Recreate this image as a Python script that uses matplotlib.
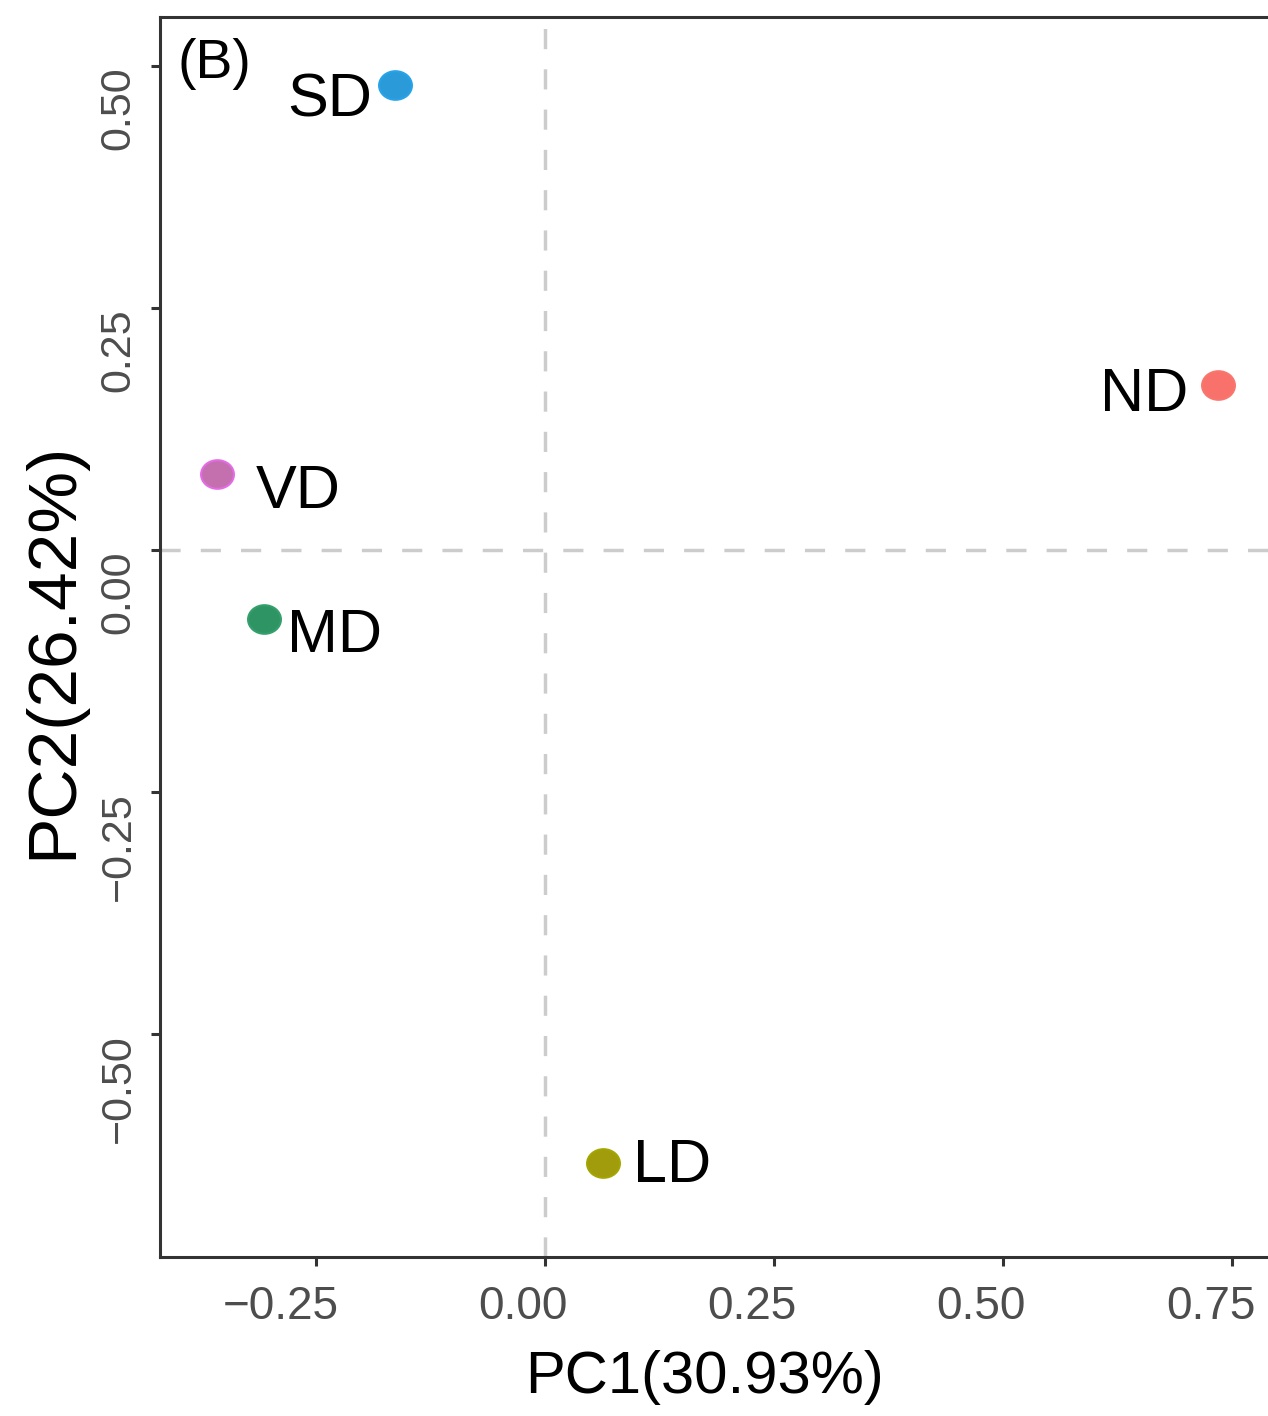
import numpy as np
import matplotlib
matplotlib.use("Agg")
import matplotlib.pyplot as plt
import matplotlib.transforms as mtransforms
from matplotlib.path import Path

plt.rcParams['font.family'] = ['Liberation Sans', 'DejaVu Sans']

# PCA scores
samples = ['ND', 'LD', 'MD', 'SD', 'VD']
pc1 = [0.734, 0.063, -0.306, -0.164, -0.358]
pc2 = [0.171, -0.633, -0.071, 0.481, 0.079]
xticks = [-0.25, 0.00, 0.25, 0.50, 0.75]
yticks = [-0.50, -0.25, 0.00, 0.25, 0.50]
xlabel = 'PC1(30.93%)'
ylabel = 'PC2(26.42%)'
panel = '(B)'

face = {'ND': '#f8716a', 'LD': '#a09c0c', 'MD': '#2f9463',
        'SD': '#2b9ad9', 'VD': '#c46fae'}
edge = {'ND': '#f8766d', 'LD': '#a3a500', 'MD': '#33a06b',
        'SD': '#27a3ea', 'VD': '#e56be6'}
# label placement in pixels (ha, dx, dy) relative to the point
label_pos = {'ND': ('right', -29, -26), 'LD': ('left', 30, -19),
             'MD': ('left', 23, -33), 'SD': ('right', -23, -32),
             'VD': ('left', 39, -34)}

W, H = 1268, 1416
fig = plt.figure(figsize=(W/100, H/100), dpi=100)
ax = fig.add_axes([160/W, 159/H, 1118/W, 1240/H])
ax.set_xlim(-0.42, 0.80)
ax.set_ylim(-0.73, 0.551)

# dashed reference lines
ax.axhline(0, color='#cccccc', lw=2.5, dashes=(5.8, 5.8), zorder=1)
ax.axvline(0, color='#cccccc', lw=2.5, dashes=(5.8, 5.8), zorder=1)

# slightly flattened dot, as in the picture
circ = Path.unit_circle()
oval = Path(circ.vertices*np.array([1.0, 0.87]), circ.codes)

for name, x, y in zip(samples, pc1, pc2):
    ax.scatter([x], [y], s=560, marker=oval, color=face[name],
               edgecolors=edge[name], linewidths=1.5, zorder=3)
    ha, dx, dy = label_pos[name]
    ax.annotate(name, (x, y), xytext=(dx, dy), textcoords='offset pixels',
                ha=ha, va='baseline', fontsize=44, color='black', zorder=4)

ax.text(0.0161, 0.983, panel, transform=ax.transAxes, ha='left', va='top',
        fontsize=40, color='black')

for s in ax.spines.values():
    s.set_color('#333333')
    s.set_linewidth(2.2)

ax.set_xticks(xticks)
ax.set_yticks(yticks)
ax.set_xticklabels(['\u22120.25', '0.00', '0.25', '0.50', '0.75'])
ax.set_yticklabels(['\u22120.50', '\u22120.25', '0.00', '0.25', '0.50'])
ax.tick_params(axis='both', direction='out', length=6.5, width=2.2,
               color='#333333', labelcolor='#4d4d4d')
ax.tick_params(axis='x', labelsize=33, pad=14)
ax.tick_params(axis='y', labelsize=31, pad=9, labelrotation=90)

ax.set_xlabel(xlabel, fontsize=43, color='black')
ax.set_ylabel(ylabel, fontsize=50, color='black')
ax.xaxis.set_label_coords(0.4866, -0.075)
ax.yaxis.set_label_coords(-0.067, 0.4895)

fig.canvas.draw()
shift = mtransforms.ScaledTranslation(23/100, 0, fig.dpi_scale_trans)
for lab in ax.get_xticklabels():
    lab.set_ha('right')
    lab.set_transform(lab.get_transform() + shift)
for lab in ax.get_yticklabels():
    lab.set_va('top')
    lab.set_ha('right')

fig.savefig('out.png', dpi=100)
